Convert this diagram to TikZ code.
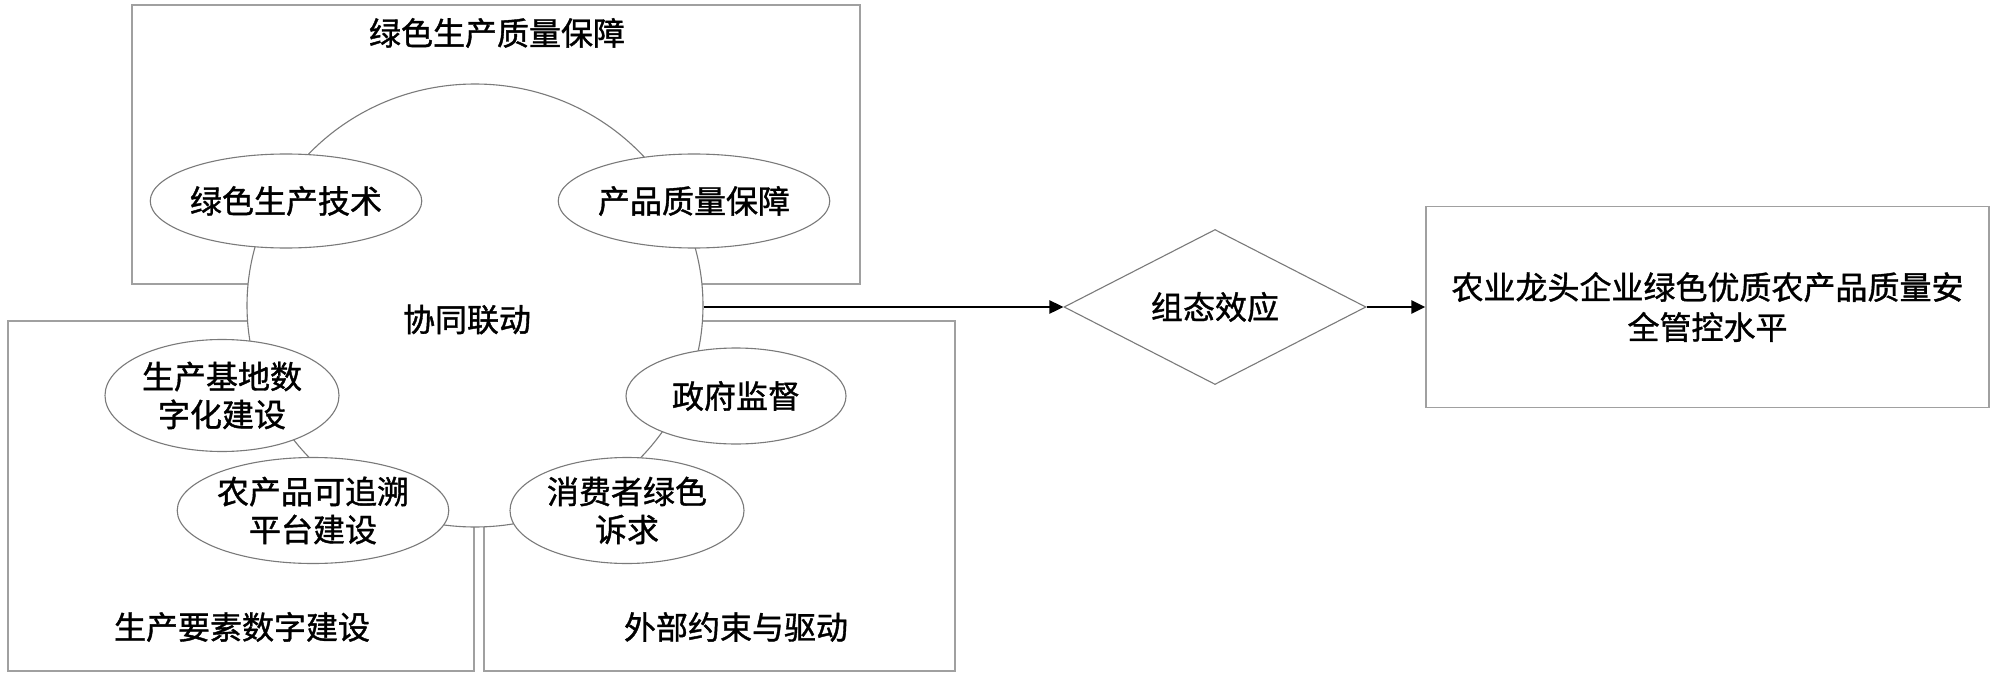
\documentclass[tikz,border=0pt]{standalone}
\usepackage{fontspec}
\newfontfamily\cjk[FakeBold=1.2]{Noto Sans CJK SC}
\usetikzlibrary{shapes.geometric,arrows.meta}
\definecolor{boxgray}{HTML}{A0A0A0}
\definecolor{ellgray}{HTML}{7A7A7A}
\tikzset{
  every node/.style={font=\cjk\fontsize{32}{38}\selectfont, inner sep=0pt, align=center},
  groupbox/.style={draw=boxgray, line width=1.3pt, rectangle, fill=none},
  oval/.style={draw=ellgray, line width=1.1pt, ellipse, fill=white},
  arr/.style={draw=black, line width=2.6pt, -{Triangle[length=14pt,width=13pt]}},
}
\begin{document}
\begin{tikzpicture}[x=1pt,y=-1pt]
\useasboundingbox (0,0) rectangle (2000,682);
\fill[white] (0,0) rectangle (2000,682);
% group boxes
\node[groupbox, minimum width=728pt, minimum height=279pt] (topbox) at (496,144.5) {};
\node[groupbox, minimum width=466pt, minimum height=350pt] (leftbox) at (241,496) {};
\node[groupbox, minimum width=471pt, minimum height=350pt] (rightbox) at (719.5,496) {};
% central circle
\node[oval, draw=ellgray, minimum width=456pt, minimum height=443pt] (core) at (475,305.5) {};
\node (coretxt) at (467,319.5) {协同联动};
% group titles
\node (toptitle) at (497,33) {绿色生产质量保障};
\node (lefttitle) at (242,627) {生产要素数字建设};
\node (righttitle) at (736,627) {外部约束与驱动};
% ellipses
\node[oval, minimum width=252pt, minimum height=94pt] (e1) at (286,201) {绿色生产技术};
\node[oval, minimum width=268pt, minimum height=94pt] (e2) at (694,201) {产品质量保障};
\node[oval, minimum width=234pt, minimum height=112pt] (e3) at (222,395.5) {生产基地数\\字化建设};
\node[oval, minimum width=248pt, minimum height=106pt] (e4) at (313,510.5) {农产品可追溯\\平台建设};
\node[oval, minimum width=220pt, minimum height=96pt] (e5) at (736,396) {政府监督};
\node[oval, minimum width=234pt, minimum height=106pt] (e6) at (627,510.5) {消费者绿色\\诉求};
% diamond and goal
\node[draw=ellgray, line width=1.1pt, diamond, aspect=2, minimum width=302pt, minimum height=155pt] (dia) at (1215,307) {组态效应};
\node[groupbox, minimum width=563pt, minimum height=201pt, font=\cjk\fontsize{32}{40}\selectfont] (goal) at (1707.5,307) {农业龙头企业绿色优质农产品质量安\\全管控水平};
% arrows
\draw[arr] (core.east |- dia.west) -- (dia.west);
\draw[arr] (dia.east) -- (goal.west);
\end{tikzpicture}
\end{document}
